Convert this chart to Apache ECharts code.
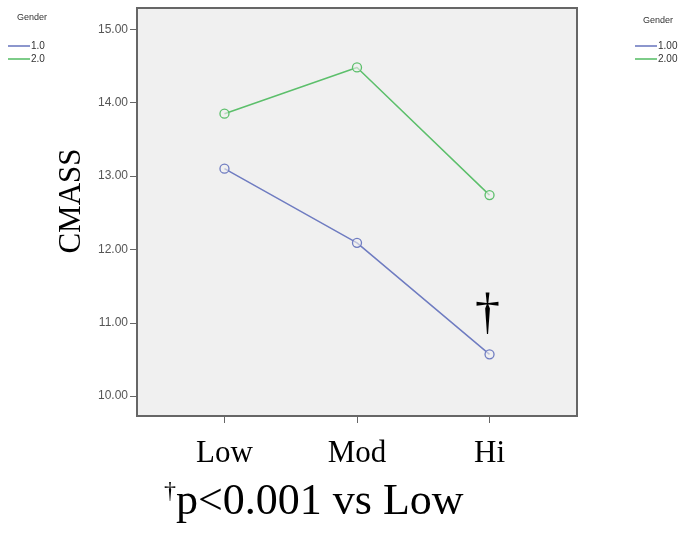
<!DOCTYPE html>
<html>
<head>
<meta charset="utf-8">
<script src="https://cdn.jsdelivr.net/npm/echarts@6/dist/echarts.min.js"></script>
<style>
html,body{margin:0;padding:0;background:#fff;}
#c{width:692px;height:533px;}
</style>
</head>
<body>
<div id="c"></div>
<script>
const categories = ['Low', 'Mod', 'Hi'];
const gender1 = [13.10, 12.09, 10.57];
const gender2 = [13.85, 14.48, 12.74];
const yTicks = [10, 11, 12, 13, 14, 15];
const xTicks = [0, 1, 2];

const blue = '#6f7cc1';
const green = '#5cbf6b';
const serif = '"Liberation Serif", "DejaVu Serif", serif';
const sans = 'Arial, "Liberation Sans", sans-serif';

const toPts = arr => arr.map((v, i) => [i, v]);
const legendItem = (name, color) => ({name: name, itemStyle: {color: color, borderWidth: 0}});

const chart = echarts.init(document.getElementById('c'), null, {renderer: 'canvas'});
chart.setOption({
  backgroundColor: '#fff',
  animation: false,
  grid: {
    left: 137, right: 115, top: 8, bottom: 117,
    show: true, backgroundColor: '#f0f0f0', borderColor: '#666', borderWidth: 2
  },
  legend: [
    {
      data: [legendItem('1.0', blue), legendItem('2.0', green)],
      orient: 'vertical', left: 3, top: 36,
      icon: 'rect', itemWidth: 22, itemHeight: 1.6, itemGap: 3,
      selectedMode: false,
      textStyle: {fontFamily: sans, fontSize: 10, color: '#333', padding: [0, 0, 0, -4]}
    },
    {
      data: [legendItem('1.00', blue), legendItem('2.00', green)],
      orient: 'vertical', left: 630, top: 36,
      icon: 'rect', itemWidth: 22, itemHeight: 1.6, itemGap: 3,
      selectedMode: false,
      textStyle: {fontFamily: sans, fontSize: 10, color: '#333', padding: [0, 0, 0, -4]}
    }
  ],
  xAxis: {
    type: 'value', min: -0.66, max: 2.66,
    splitLine: {show: false},
    axisLine: {show: true, onZero: false, lineStyle: {color: '#666', width: 2}},
    axisTick: {show: true, customValues: xTicks, length: 7, lineStyle: {color: '#666'}},
    axisLabel: {
      customValues: xTicks, formatter: v => categories[v], margin: 22,
      fontFamily: serif, fontSize: 31, color: '#000'
    }
  },
  yAxis: {
    type: 'value', min: 9.73, max: 15.29,
    splitLine: {show: false},
    axisLine: {show: true, onZero: false, lineStyle: {color: '#666', width: 2}},
    axisTick: {show: true, customValues: yTicks, length: 7, lineStyle: {color: '#666'}},
    axisLabel: {
      customValues: yTicks, formatter: v => v.toFixed(2), margin: 9,
      fontFamily: sans, fontSize: 12, color: '#555'
    },
    name: 'CMASS', nameLocation: 'middle', nameGap: 43,
    nameTextStyle: {fontFamily: serif, fontSize: 31, color: '#000', padding: [0, 0, 0, 22]}
  },
  series: [
    {
      name: '1.0', type: 'line', data: toPts(gender1),
      symbol: 'circle', symbolSize: 9, color: blue,
      lineStyle: {color: blue, width: 1.5},
      itemStyle: {color: 'rgba(240,240,240,0.6)', borderColor: blue, borderWidth: 1.3},
      markPoint: {
        symbol: 'circle', symbolSize: 0,
        data: [{coord: [2, gender1[2]], value: '†'}],
        label: {show: true, formatter: '†', fontFamily: serif, fontSize: 50, color: '#000', offset: [-2, -39]}
      }
    },
    {
      name: '2.0', type: 'line', data: toPts(gender2),
      symbol: 'circle', symbolSize: 9, color: green,
      lineStyle: {color: green, width: 1.5},
      itemStyle: {color: 'rgba(240,240,240,0.6)', borderColor: green, borderWidth: 1.3}
    },
    {name: '1.00', type: 'line', data: [], color: blue, lineStyle: {color: blue}},
    {name: '2.00', type: 'line', data: [], color: green, lineStyle: {color: green}}
  ],
  graphic: [
    {type: 'text', left: 17, top: 13, style: {text: 'Gender', fontFamily: sans, fontSize: 9, fill: '#333'}},
    {type: 'text', left: 643, top: 16, style: {text: 'Gender', fontFamily: sans, fontSize: 9, fill: '#333'}},
    {
      type: 'text', left: 164, top: 480,
      style: {
        text: '{d|†}{t|p<0.001 vs Low}',
        rich: {
          d: {fontFamily: serif, fontSize: 24, fill: '#000', verticalAlign: 'top', padding: [0, 0, 14, 0]},
          t: {fontFamily: serif, fontSize: 44, fill: '#000'}
        }
      }
    }
  ]
});
</script>
</body>
</html>
